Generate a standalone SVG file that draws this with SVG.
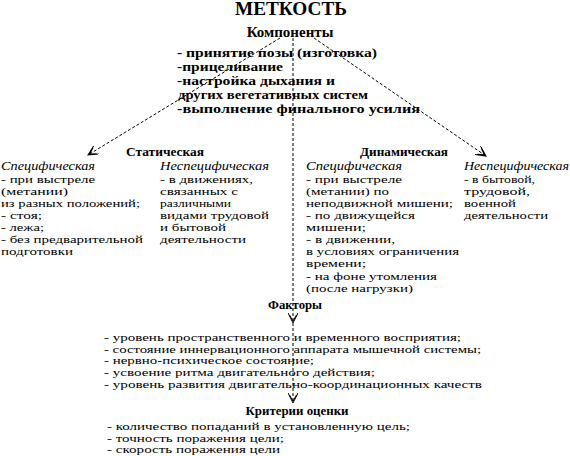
<svg xmlns="http://www.w3.org/2000/svg" width="570" height="456" viewBox="0 0 570 456">
<defs>
<style>
text{font-family:"Liberation Serif","Times New Roman",serif;fill:#000}
.t{font-size:18px;font-weight:bold}
.h{font-size:15px;font-weight:bold}
.c{font-size:13.5px;font-weight:bold}
.s{font-size:12px;font-weight:bold}
.b{font-size:11px}
.i{font-size:11.5px;font-style:italic}
.f{font-size:11px}
.con{stroke:#000;stroke-width:1;fill:none;stroke-dasharray:3,2}
</style>
<marker id="ar" markerWidth="12" markerHeight="10" refX="10" refY="5" orient="auto" markerUnits="userSpaceOnUse">
<path d="M0,0 L10,5 L0,10 M2,1.5 L8,5 L2,8.5" fill="none" stroke="#000" stroke-width="1"/>
</marker>
</defs>
<rect width="570" height="456" fill="#fff"/>
<g id="connectors">
<path class="con" d="M280,38 L88,155" marker-end="url(#ar)"/>
<path class="con" d="M314,38 L486,156" marker-end="url(#ar)"/>
<path class="con" d="M293,38 L293,323" marker-end="url(#ar)"/>
<path class="con" d="M293,323 L293,403" marker-end="url(#ar)"/>
</g>
<g id="title"><text class="t" x="291" y="15" text-anchor="middle" textLength="112" lengthAdjust="spacingAndGlyphs">МЕТКОСТЬ</text></g>
<g id="components">
<text class="h" x="290" y="37" text-anchor="middle">Компоненты</text>
<text class="c" x="177" y="57" textLength="200" lengthAdjust="spacingAndGlyphs">- принятие позы (изготовка)</text>
<text class="c" x="177" y="71" textLength="106" lengthAdjust="spacingAndGlyphs">-прицеливание</text>
<text class="c" x="177" y="85" textLength="158" lengthAdjust="spacingAndGlyphs">-настройка дыхания и</text>
<text class="c" x="178" y="99" textLength="190" lengthAdjust="spacingAndGlyphs">других вегетативных систем</text>
<text class="c" x="177" y="113" textLength="243" lengthAdjust="spacingAndGlyphs">-выполнение финального усилия</text>
</g>
<g id="static">
<text class="s" x="165" y="156" text-anchor="middle" textLength="78" lengthAdjust="spacingAndGlyphs">Статическая</text>
<text class="i" x="1" y="170" textLength="94" lengthAdjust="spacingAndGlyphs">Специфическая</text>
<text class="b" x="1" y="183" textLength="94" lengthAdjust="spacingAndGlyphs">- при выстреле</text>
<text class="b" x="1" y="195" textLength="67" lengthAdjust="spacingAndGlyphs">(метании)</text>
<text class="b" x="1" y="207" textLength="139" lengthAdjust="spacingAndGlyphs">из разных положений;</text>
<text class="b" x="1" y="219" textLength="41" lengthAdjust="spacingAndGlyphs">- стоя;</text>
<text class="b" x="1" y="231" textLength="43" lengthAdjust="spacingAndGlyphs">- лежа;</text>
<text class="b" x="1" y="243" textLength="142" lengthAdjust="spacingAndGlyphs">- без предварительной</text>
<text class="b" x="1" y="255" textLength="72" lengthAdjust="spacingAndGlyphs">подготовки</text>
<text class="i" x="160" y="170" textLength="109" lengthAdjust="spacingAndGlyphs">Неспецифическая</text>
<text class="b" x="160" y="183" textLength="93" lengthAdjust="spacingAndGlyphs">- в движениях,</text>
<text class="b" x="160" y="195" textLength="78" lengthAdjust="spacingAndGlyphs">связанных с</text>
<text class="b" x="160" y="207" textLength="71" lengthAdjust="spacingAndGlyphs">различными</text>
<text class="b" x="160" y="219" textLength="109" lengthAdjust="spacingAndGlyphs">видами трудовой</text>
<text class="b" x="160" y="231" textLength="66" lengthAdjust="spacingAndGlyphs">и бытовой</text>
<text class="b" x="160" y="243" textLength="86" lengthAdjust="spacingAndGlyphs">деятельности</text>
</g>
<g id="dynamic">
<text class="s" x="404" y="156" text-anchor="middle" textLength="88" lengthAdjust="spacingAndGlyphs">Динамическая</text>
<text class="i" x="306" y="170" textLength="96" lengthAdjust="spacingAndGlyphs">Специфическая</text>
<text class="b" x="306" y="183" textLength="96" lengthAdjust="spacingAndGlyphs">- при выстреле</text>
<text class="b" x="306" y="195" textLength="83" lengthAdjust="spacingAndGlyphs">(метании) по</text>
<text class="b" x="306" y="207" textLength="147" lengthAdjust="spacingAndGlyphs">неподвижной мишени;</text>
<text class="b" x="306" y="219" textLength="109" lengthAdjust="spacingAndGlyphs">- по движущейся</text>
<text class="b" x="306" y="231" textLength="60" lengthAdjust="spacingAndGlyphs">мишени;</text>
<text class="b" x="306" y="243" textLength="89" lengthAdjust="spacingAndGlyphs">- в движении,</text>
<text class="b" x="306" y="255" textLength="153" lengthAdjust="spacingAndGlyphs">в условиях ограничения</text>
<text class="b" x="306" y="267" textLength="60" lengthAdjust="spacingAndGlyphs">времени;</text>
<text class="b" x="306" y="280" textLength="131" lengthAdjust="spacingAndGlyphs">- на фоне утомления</text>
<text class="b" x="306" y="292" textLength="107" lengthAdjust="spacingAndGlyphs">(после нагрузки)</text>
<text class="i" x="464" y="170" textLength="105" lengthAdjust="spacingAndGlyphs">Неспецифическая</text>
<text class="b" x="464" y="183" textLength="71" lengthAdjust="spacingAndGlyphs">- в бытовой,</text>
<text class="b" x="464" y="195" textLength="66" lengthAdjust="spacingAndGlyphs">трудовой,</text>
<text class="b" x="464" y="207" textLength="52" lengthAdjust="spacingAndGlyphs">военной</text>
<text class="b" x="464" y="219" textLength="84" lengthAdjust="spacingAndGlyphs">деятельности</text>
</g>
<g id="factors">
<text class="s" x="295" y="309" text-anchor="middle" textLength="54" lengthAdjust="spacingAndGlyphs">Факторы</text>
<text class="f" x="104" y="341" textLength="357" lengthAdjust="spacingAndGlyphs">- уровень пространственного и временного восприятия;</text>
<text class="f" x="104" y="353" textLength="377" lengthAdjust="spacingAndGlyphs">- состояние иннервационного аппарата мышечной системы;</text>
<text class="f" x="104" y="364" textLength="210" lengthAdjust="spacingAndGlyphs">- нервно-психическое состояние;</text>
<text class="f" x="104" y="376" textLength="271" lengthAdjust="spacingAndGlyphs">- усвоение ритма двигательного действия;</text>
<text class="f" x="104" y="388" textLength="378" lengthAdjust="spacingAndGlyphs">- уровень развития двигательно-координационных качеств</text>
</g>
<g id="criteria">
<text class="s" x="297" y="415" text-anchor="middle" textLength="103" lengthAdjust="spacingAndGlyphs">Критерии оценки</text>
<text class="f" x="107" y="430" textLength="303" lengthAdjust="spacingAndGlyphs">- количество попаданий в установленную цель;</text>
<text class="f" x="107" y="442" textLength="177" lengthAdjust="spacingAndGlyphs">- точность поражения цели;</text>
<text class="f" x="107" y="453" textLength="173" lengthAdjust="spacingAndGlyphs">- скорость поражения цели</text>
</g>
</svg>
